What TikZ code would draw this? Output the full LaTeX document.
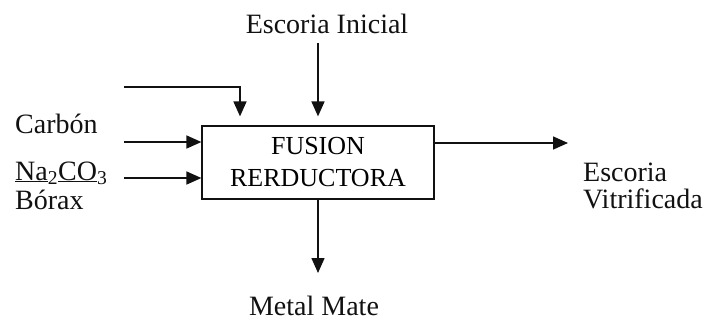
\documentclass[tikz,border=0pt]{standalone}
\usepackage{fontspec}
\setmainfont{Liberation Serif}
\usepackage{tikz}
\usetikzlibrary{arrows.meta, positioning, calc}
\definecolor{cink}{HTML}{111111}

\tikzset{
  flow/.style={-{Triangle[length=15pt, width=13pt]}, line width=1.5pt, cink},
  lbl/.style={font=\fontsize{28}{27}\selectfont, inner sep=0pt, cink},
  procbox/.style={draw=cink, line width=1.2pt, minimum width=232pt, minimum height=73pt,
    align=center, font=\fontsize{26}{32}\selectfont, inner sep=0pt}
}

\begin{document}
\begin{tikzpicture}[x=1pt, y=-1pt]
  \useasboundingbox (0,0) rectangle (717,322);

  % Process box
  \node[procbox] (fusion) at (318,162.5) {FUSION\\RERDUCTORA};

  % Labels
  \node[lbl, anchor=base] (inicial) at (327,33) {Escoria Inicial};
  \node[lbl, anchor=base west] (carbon) at (15,133) {Carbón};
  \node[lbl, anchor=base west] (soda) at (15,180) {\underline{Na}\textsubscript{2}\underline{CO}\textsubscript{3}};
  \node[lbl, anchor=base west] (borax) at (15,209) {Bórax};
  \node[lbl, anchor=west, align=left] (vitri) at (583,186) {Escoria\\Vitrificada};
  \node[lbl, anchor=base] (mate) at (314,315) {Metal Mate};

  % Free ends
  \coordinate (topin) at (318,43);
  \coordinate (feed) at (124,87);
  \coordinate (feedcorner) at (240,87);
  \coordinate (incarbon) at (124,142);
  \coordinate (insoda) at (124,178);
  \coordinate (outright) at (568,143);
  \coordinate (outdown) at (318,273);

  % Inputs
  \draw[flow, shorten >=9pt] (topin) -- (fusion.north);
  \draw[flow, shorten >=9pt] (feed) -- (feedcorner) -- (feedcorner |- fusion.north);
  \draw[flow] (incarbon) -- (incarbon -| fusion.west);
  \draw[flow] (insoda) -- (insoda -| fusion.west);

  % Outputs
  \draw[flow] (outright -| fusion.east) -- (outright);
  \draw[flow] (fusion.south) -- (outdown);
\end{tikzpicture}
\end{document}
